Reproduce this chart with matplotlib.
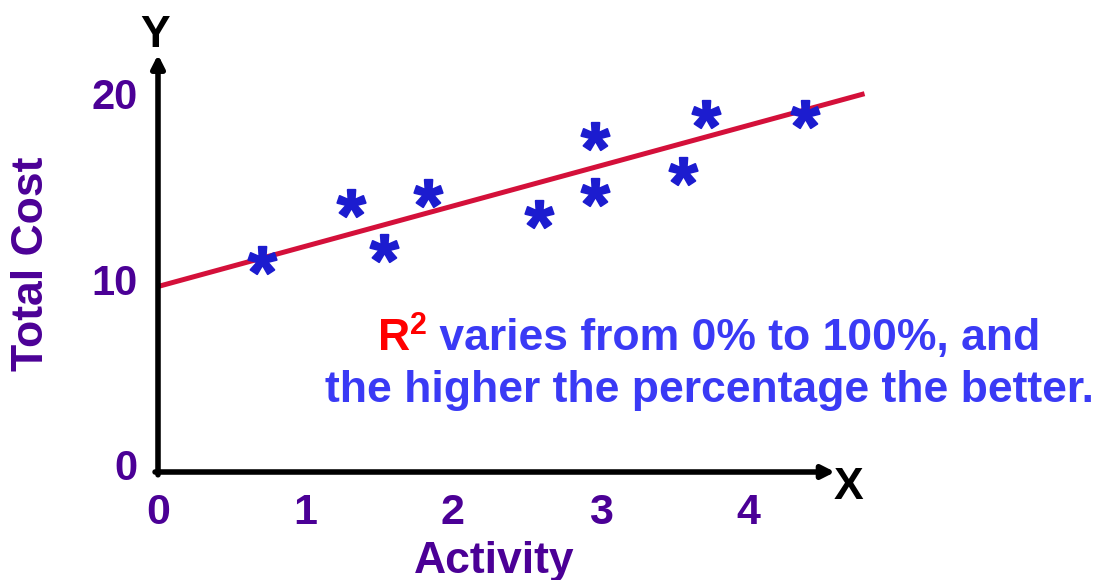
import matplotlib
matplotlib.use('Agg')
import numpy as np
from matplotlib import pyplot as plt
from matplotlib.textpath import TextPath
from matplotlib.font_manager import FontProperties
from matplotlib.path import Path

# data
activity = [0.705, 1.308, 1.532, 1.831, 2.583, 2.963, 2.963, 3.559, 3.715, 4.386]
total_cost = [11.43, 14.50, 12.08, 15.04, 13.91, 18.11, 15.09, 16.23, 19.30, 19.30]
intercept = 10.0
slope = 2.17
line_x = [0.0, 4.79]
x_ticks = [0, 1, 2, 3, 4]
y_ticks = [0, 10, 20]

PURPLE = '#4B0096'
BLUE_TXT = '#3A3AF5'
STAR = '#1C1CCF'
RED_LINE = '#D4103A'


def star_marker():
    fp = FontProperties(family='Liberation Sans', weight='bold')
    tp = TextPath((0, 0), '*', prop=fp, size=10)
    v = tp.vertices.copy()
    codes = tp.codes
    real = codes != Path.CLOSEPOLY
    lo, hi = v[real].min(axis=0), v[real].max(axis=0)
    v = v - (lo + hi) / 2
    v[~real] = 0
    return Path(v, codes)


def main():
    plt.rcParams['font.family'] = ['Liberation Sans', 'DejaVu Sans']
    plt.rcParams['font.weight'] = 'bold'

    fig = plt.figure(figsize=(11.01, 5.80), dpi=100)
    ax = fig.add_axes([0, 0, 1, 1])
    # map data to pixels: x0 at 158px, 147.5 px/unit; y0 at 472px, 18.55 px/unit
    ax.set_xlim(-158 / 147.5, (1101 - 158) / 147.5)
    ax.set_ylim((472 - 580) / 18.55, 472 / 18.55)
    ax.axis('off')

    # axes with arrows
    arrow = dict(arrowstyle='-|>,head_length=0.75,head_width=0.38',
                 color='black', lw=4, shrinkA=0, shrinkB=0)
    ax.annotate('', xy=(4.59, 0), xytext=(-0.02, 0), arrowprops=arrow)
    ax.annotate('', xy=(0, 22.5), xytext=(0, -0.15), arrowprops=arrow)
    ax.text(-0.02, 23.55, 'Y', fontsize=32, color='black', ha='center', va='center')
    ax.text(4.68, -0.85, 'X', fontsize=32, color='black', ha='center', va='center')

    # regression line
    lx = np.array(line_x)
    ax.plot(lx, intercept + slope * lx, color=RED_LINE, lw=3.6, solid_capstyle='butt')

    # data points
    ax.plot(activity, total_cost, ls='none', marker=star_marker(),
            ms=20.5, color=STAR, mec=STAR, mew=1.3)

    # tick labels
    for t in x_ticks:
        ax.text(t, -2.2, str(t), fontsize=31, color=PURPLE, ha='center', va='center')
    for t in y_ticks:
        ax.text(-0.14, t + 0.15, str(t), fontsize=30, color=PURPLE, ha='right', va='center')

    ax.text(2.28, -5.45, 'Activity', fontsize=32, color=PURPLE, ha='center', va='baseline')
    ax.text(-0.86, 11.2, 'Total Cost', fontsize=32, color=PURPLE, ha='center', va='center',
            rotation=90)

    # annotation
    r = ax.text(1.49, 6.58, 'R', fontsize=32, color='#FF0000', ha='left', va='baseline')
    sup = ax.annotate('2', xy=(1, 1), xycoords=r, xytext=(0, 5), textcoords='offset points',
                      fontsize=22, color='#FF0000', ha='left', va='top')
    ax.annotate(' varies from 0% to 100%, and', xy=(1, 0), xycoords=(sup, r),
                fontsize=32, color=BLUE_TXT, ha='left', va='bottom')
    ax.text(3.736, 3.77, 'the higher the percentage the better.', fontsize=32,
            color=BLUE_TXT, ha='center', va='baseline')

    fig.savefig('out.png', dpi=100)


if __name__ == '__main__':
    main()
